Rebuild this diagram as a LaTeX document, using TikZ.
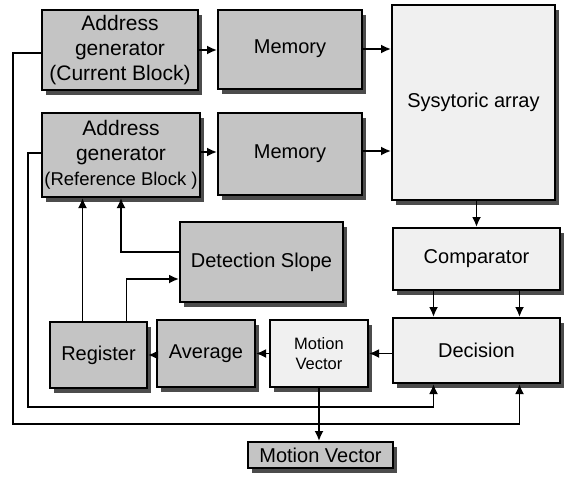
\documentclass[tikz,border=0pt]{standalone}
\usepackage{fontspec}
\setmainfont{Liberation Sans}
\usetikzlibrary{arrows.meta,shadows}

\begin{document}
\begin{tikzpicture}[
    x=1pt, y=-1pt,
    block/.style={rectangle, draw=black, line width=2pt, fill=black!23,
        inner sep=0pt, align=center, font=\fontsize{20}{25}\selectfont,
        drop shadow={shadow xshift=4pt, shadow yshift=-5pt,
            fill=black!70, opacity=1}},
    light/.style={block, fill=black!6},
    edge/.style={line width=1.8pt, -{Latex[length=10pt,width=9pt]}}
]
    \useasboundingbox (0,0) rectangle (565,477);

    % blocks
    \node[block, minimum width=156, minimum height=80, font=\fontsize{21}{25}\selectfont]
        (agc) at (120,50) {Address\\generator\\(Current Block)};
    \node[block, minimum width=144, minimum height=79] (mema) at (290,49) {Memory};
    \node[block, minimum width=158, minimum height=84, font=\fontsize{21}{25}\selectfont]
        (agr) at (121,155) {Address\\generator\\{\fontsize{18.5}{25}\selectfont(Reference Block )}};
    \node[block, minimum width=144, minimum height=82] (memb) at (290,154) {Memory};
    \node[light, minimum width=163, minimum height=195] (sys) at (473.5,102.5) {Sysytoric array};
    \node[light, minimum width=167, minimum height=62] (cmp) at (476.5,259) {Comparator};
    \node[light, minimum width=167, minimum height=65] (dec) at (476.5,350.5) {Decision};
    \node[block, minimum width=163, minimum height=80] (det) at (261.5,262) {Detection Slope};
    \node[light, minimum width=98, minimum height=67, font=\fontsize{16.5}{20}\selectfont]
        (mv) at (319,353.5) {Motion\\Vector};
    \node[block, minimum width=98, minimum height=67] (avg) at (206,353.5) {Average};
    \node[block, minimum width=97, minimum height=66] (reg) at (98.5,355) {Register};
    \node[block, minimum width=145, minimum height=26] (out) at (320.5,455) {Motion Vector};

    % feedback corners
    \coordinate (inl) at (28,407);
    \coordinate (outl) at (13,424);

    % data path
    \draw[edge] (agc.east) -- (agc.east -| mema.west);
    \draw[edge] (mema.east) -- (mema.east -| sys.west);
    \draw[edge] ([yshift=3]agr.east) -- ([yshift=3]agr.east -| memb.west);
    \draw[edge] ([yshift=3]memb.east) -- ([yshift=3]memb.east -| sys.west);
    \draw[edge] ([xshift=3]sys.south) -- ([xshift=3]sys.south |- cmp.north);
    \draw[edge] ([xshift=-43]cmp.south) -- ([xshift=-43]cmp.south |- dec.north);
    \draw[edge] ([xshift=43]cmp.south) -- ([xshift=43]cmp.south |- dec.north);
    \draw[edge] (dec.west |- mv.east) -- (mv.east);
    \draw[edge] (mv.west) -- (avg.east);
    \draw[edge] (avg.west |- reg.east) -- (reg.east);
    \draw[edge] (mv.south) -- (mv.south |- out.north);

    % slope loop
    \draw[edge] ([xshift=-16]reg.north) -- ([xshift=-16]reg.north |- agr.south);
    \draw[edge] ([xshift=28]reg.north) |- ([yshift=-17]det.west);
    \draw[edge] ([yshift=10]det.west) -| (agr.south);

    % decision feedback
    \draw[edge] ([yshift=2]agr.west) -| (inl) -| ([xshift=-43]dec.south);
    \draw[edge] ([yshift=-3]agc.west) -| (outl) -| ([xshift=43]dec.south);
\end{tikzpicture}
\end{document}
